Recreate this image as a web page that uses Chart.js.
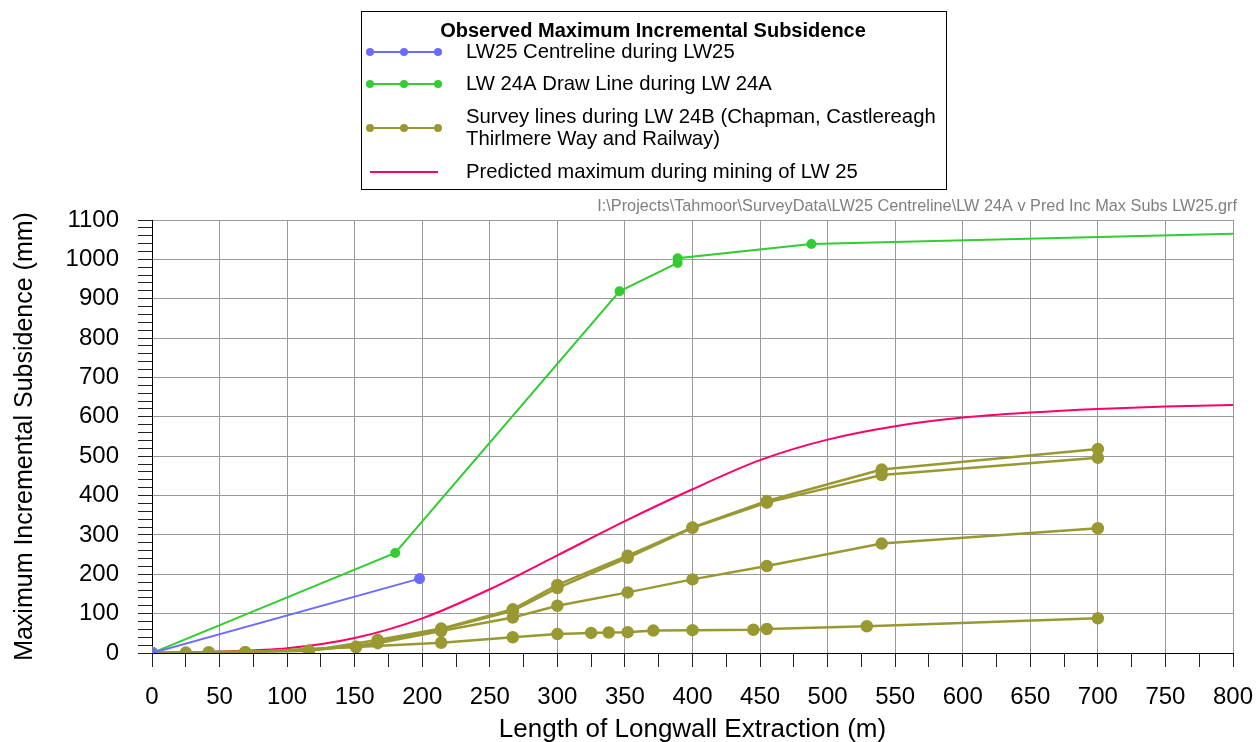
<!DOCTYPE html>
<html>
<head>
<meta charset="utf-8">
<script src="https://cdn.jsdelivr.net/npm/chart.js@4.4.1/dist/chart.umd.min.js"></script>
<style>
  html, body { margin: 0; padding: 0; background: #fff; }
  #wrap { position: relative; width: 1258px; height: 742px; }
</style>
</head>
<body>
<div id="wrap"><canvas id="chart" width="1258" height="742"></canvas></div>
<script>
// LW25 centreline during LW25
const lw25X = [0, 198];
const lw25Y = [0, 189];

// LW 24A draw line during LW 24A
const lw24aX = [0, 180, 346, 389, 389, 488, 800];
const lw24aY = [0, 254, 919, 991, 1003, 1039, 1065];

// Survey lines during LW 24B (four lines, one legend entry)
const surveyAX = [0, 42, 116, 167, 214, 267, 300, 352, 400, 455, 540, 700];
const surveyAY = [0, 2, 6, 33, 62, 111, 173, 247, 319, 386, 466, 518];
const surveyBX = [0, 69, 151, 214, 267, 300, 352, 400, 455, 540, 700];
const surveyBY = [0, 2, 16, 60, 107, 165, 242, 318, 382, 452, 496];
const surveyCX = [0, 116, 167, 214, 267, 300, 352, 400, 455, 540, 700];
const surveyCY = [0, 6, 25, 56, 90, 120, 154, 187, 221, 278, 317];
const surveyDX = [0, 25, 69, 151, 214, 267, 300, 325, 338, 352, 371, 400, 445, 455, 529, 700];
const surveyDY = [0, 1, 2, 15, 26, 40, 48, 51, 52, 53, 57, 58, 59, 61, 68, 88];

// Predicted maximum during mining of LW 25
const predX = [0, 50, 100, 150, 200, 250, 300, 350, 400, 450, 500, 550, 600, 650, 700, 750, 800];
const predY = [0, 4, 12, 38, 88, 162, 248, 335, 416, 490, 542, 576, 598, 611, 620, 626, 630];

const xMin = 0, xMax = 800, xStep = 25, xLabelStep = 50;
const yMin = 0, yMax = 1100, yStep = 20, yLabelStep = 100;

const xTitle = "Length of Longwall Extraction (m)";
const yTitle = "Maximum Incremental Subsidence (mm)";
const filePath = "I:\\Projects\\Tahmoor\\SurveyData\\LW25 Centreline\\LW 24A v Pred Inc Max Subs LW25.grf";

const BLUE = "#6b6bff";
const GREEN = "#33cc33";
const OLIVE = "#999933";
const RED = "#ff0066";
const FONT = "'Liberation Sans', Arial, sans-serif";

const pts = (xs, ys) => xs.map((x, i) => ({ x, y: ys[i] }));

function surveySet(xs, ys) {
    return {
        data: pts(xs, ys),
        borderColor: OLIVE,
        backgroundColor: OLIVE,
        borderWidth: 2.5,
        pointRadius: 5,
        tension: 0,
        order: 2,
    };
}

const decorations = {
    id: "decorations",
    afterDraw(chart) {
        const ctx = chart.ctx;
        const area = chart.chartArea;
        ctx.save();

        // axis titles
        ctx.fillStyle = "#000";
        ctx.textAlign = "center";
        ctx.textBaseline = "middle";
        ctx.font = `26px ${FONT}`;
        ctx.fillText(xTitle, (area.left + area.right) / 2, 730);
        ctx.font = `25px ${FONT}`;
        ctx.save();
        ctx.translate(25, (area.top + area.bottom) / 2);
        ctx.rotate(-Math.PI / 2);
        ctx.fillText(yTitle, 0, 0);
        ctx.restore();

        // file path note
        ctx.fillStyle = "#808080";
        ctx.font = `16.3px ${FONT}`;
        ctx.textAlign = "right";
        ctx.fillText(filePath, 1237, 207);

        // legend frame
        ctx.fillStyle = "#fff";
        ctx.fillRect(361.5, 11.5, 585, 178);
        ctx.strokeStyle = "#000";
        ctx.lineWidth = 1;
        ctx.strokeRect(361.5, 11.5, 585, 178);

        ctx.fillStyle = "#000";
        ctx.font = `bold 20px ${FONT}`;
        ctx.textAlign = "center";
        ctx.fillText("Observed Maximum Incremental Subsidence", 653, 31);

        const rows = [
            { color: BLUE, y: 52, marks: true, text: ["LW25 Centreline during LW25"] },
            { color: GREEN, y: 84, marks: true, text: ["LW 24A Draw Line during LW 24A"] },
            { color: OLIVE, y: 128, marks: true, text: ["Survey lines during LW 24B (Chapman, Castlereagh", "Thirlmere Way and Railway)"] },
            { color: RED, y: 172, marks: false, text: ["Predicted maximum during mining of LW 25"] },
        ];
        ctx.font = `20.3px ${FONT}`;
        ctx.textAlign = "left";
        rows.forEach((r) => {
            ctx.strokeStyle = r.color;
            ctx.lineWidth = 2;
            ctx.beginPath();
            ctx.moveTo(370, r.y);
            ctx.lineTo(438, r.y);
            ctx.stroke();
            if (r.marks) {
                ctx.fillStyle = r.color;
                [370, 404, 438].forEach((mx) => {
                    ctx.beginPath();
                    ctx.arc(mx, r.y, 4, 0, Math.PI * 2);
                    ctx.fill();
                });
            }
            ctx.fillStyle = "#000";
            const off = (r.text.length - 1) * 11;
            r.text.forEach((t, i) => ctx.fillText(t, 466, r.y - off + i * 22));
        });
        ctx.restore();
    },
};

new Chart(document.getElementById("chart"), {
    type: "line",
    data: {
        datasets: [
            {
                data: pts(lw25X, lw25Y),
                borderColor: BLUE,
                backgroundColor: BLUE,
                borderWidth: 2,
                pointRadius: 4.5,
                tension: 0,
                order: 0,
            },
            {
                data: pts(lw24aX, lw24aY),
                borderColor: GREEN,
                backgroundColor: GREEN,
                borderWidth: 2,
                pointRadius: lw24aX.map((x) => (x >= xMax ? 0 : 4)),
                tension: 0,
                order: 1,
            },
            surveySet(surveyAX, surveyAY),
            surveySet(surveyBX, surveyBY),
            surveySet(surveyCX, surveyCY),
            surveySet(surveyDX, surveyDY),
            {
                data: pts(predX, predY),
                borderColor: RED,
                borderWidth: 2,
                pointRadius: 0,
                cubicInterpolationMode: "monotone",
                order: 3,
            },
        ],
    },
    options: {
        responsive: false,
        animation: false,
        events: [],
        layout: { padding: { top: 220, right: 25, left: 0, bottom: 0 } },
        plugins: { legend: { display: false }, tooltip: { enabled: false } },
        scales: {
            x: {
                type: "linear",
                min: xMin,
                max: xMax,
                afterFit: (s) => { s.height = 89; s.paddingLeft = 0; s.paddingRight = 0; },
                border: { color: "#000", width: 1 },
                grid: {
                    color: (c) => (c.tick && c.tick.value % xLabelStep === 0 ? "#999" : "rgba(0,0,0,0)"),
                    tickColor: "#222",
                    tickLength: 14,
                    lineWidth: 1,
                },
                ticks: {
                    stepSize: xStep,
                    autoSkip: false,
                    maxRotation: 0,
                    color: "#000",
                    padding: 16,
                    font: { family: FONT, size: 24 },
                    callback: (v) => (v % xLabelStep === 0 ? v : ""),
                },
            },
            y: {
                min: yMin,
                max: yMax,
                afterFit: (s) => { s.width = 152; s.paddingTop = 0; s.paddingBottom = 0; },
                border: { color: "#000", width: 1 },
                grid: {
                    color: (c) => (c.tick && c.tick.value % yLabelStep === 0 ? "#999" : "rgba(0,0,0,0)"),
                    tickColor: "#222",
                    tickLength: 14,
                    lineWidth: 1,
                },
                ticks: {
                    stepSize: yStep,
                    autoSkip: false,
                    color: "#000",
                    padding: 19,
                    font: { family: FONT, size: 24 },
                    callback: (v) => (v % yLabelStep === 0 ? v : ""),
                },
            },
        },
    },
    plugins: [decorations],
});
</script>
</body>
</html>
